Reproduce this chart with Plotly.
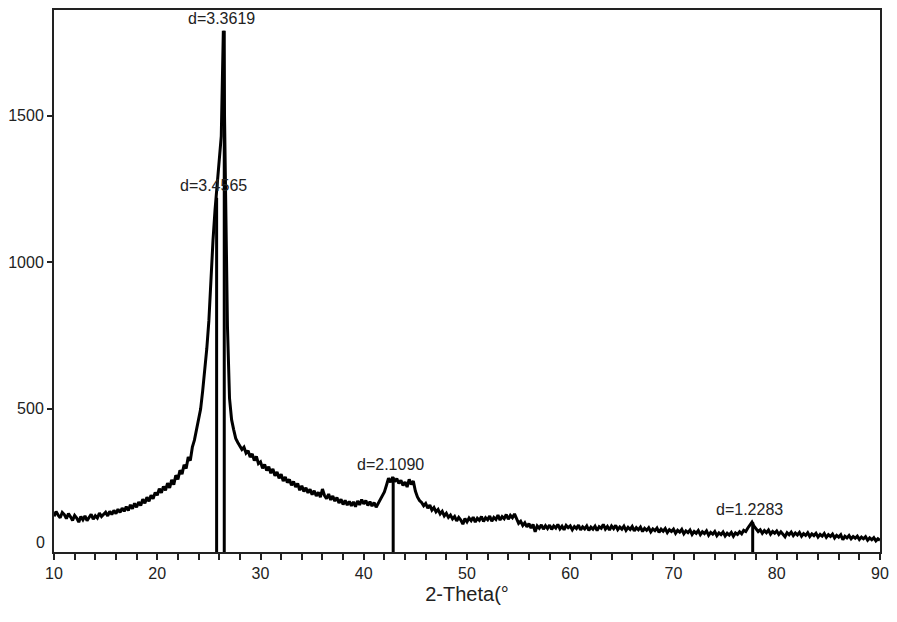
import plotly.graph_objects as go

# ---- data ----
two_theta_start = 10.0
two_theta_step = 0.2

intensity_10_15 = [132, 148, 136, 127, 145, 138, 124, 141, 130, 118, 135, 126, 112, 131, 120, 133, 117, 128, 139, 122, 134, 126, 143, 131, 138]
intensity_15_20 = [146, 133, 149, 138, 152, 141, 156, 145, 160, 149, 165, 152, 171, 158, 176, 163, 181, 169, 190, 176, 197, 183, 204, 192, 213]
intensity_20_25 = [204, 226, 212, 234, 221, 245, 229, 256, 240, 272, 258, 289, 276, 308, 295, 334, 322, 368, 392, 428, 452, 498, 560, 625, 705]
intensity_25_30 = [800, 945, 1075, 1180, 1255, 1330, 1430, 1790, 1350, 780, 535, 462, 428, 398, 384, 372, 360, 368, 348, 356, 334, 345, 322, 336, 312]
intensity_30_35 = [318, 296, 309, 288, 301, 279, 294, 270, 283, 262, 276, 252, 266, 247, 258, 238, 251, 232, 244, 221, 236, 217, 229, 212, 224]
intensity_35_40 = [206, 219, 201, 214, 197, 225, 203, 192, 208, 188, 201, 184, 196, 177, 190, 172, 186, 170, 183, 168, 181, 165, 184, 171, 189]
intensity_40_45 = [174, 186, 169, 182, 167, 179, 163, 176, 185, 198, 215, 238, 262, 248, 266, 250, 261, 244, 255, 237, 249, 232, 258, 241, 252]
intensity_45_50 = [218, 198, 186, 179, 168, 176, 160, 170, 153, 162, 147, 155, 140, 149, 133, 142, 128, 136, 123, 131, 116, 128, 119, 105, 124]
intensity_50_55 = [113, 126, 117, 129, 112, 125, 118, 131, 114, 127, 120, 133, 115, 128, 121, 136, 119, 131, 124, 138, 122, 135, 127, 140, 121]
intensity_55_60 = [108, 115, 101, 110, 96, 107, 92, 104, 79, 99, 91, 103, 88, 100, 90, 102, 87, 99, 92, 104, 89, 98, 86, 101, 93]
intensity_60_65 = [99, 86, 97, 90, 102, 85, 96, 89, 99, 84, 95, 88, 98, 83, 96, 91, 104, 88, 97, 85, 99, 90, 101, 86, 95]
intensity_65_70 = [88, 98, 84, 94, 87, 97, 82, 93, 86, 95, 80, 91, 84, 93, 79, 89, 83, 92, 77, 88, 81, 90, 76, 86, 80]
intensity_70_75 = [88, 74, 84, 78, 87, 72, 82, 76, 85, 70, 80, 74, 83, 69, 79, 73, 82, 67, 77, 71, 80, 66, 75, 69, 78]
intensity_75_80 = [65, 74, 68, 77, 64, 75, 70, 79, 72, 84, 80, 92, 104, 112, 98, 88, 80, 86, 74, 83, 76, 85, 71, 80, 74]
intensity_80_85 = [82, 70, 79, 72, 62, 76, 69, 78, 66, 75, 68, 77, 64, 73, 67, 76, 63, 72, 66, 74, 61, 70, 64, 73, 60]
intensity_85_90 = [69, 63, 71, 58, 67, 61, 69, 52, 64, 58, 66, 55, 63, 57, 64, 53, 61, 55, 62, 50, 58, 52, 59, 48, 55, 50]

intensity = (intensity_10_15 + intensity_15_20 + intensity_20_25 + intensity_25_30
             + intensity_30_35 + intensity_35_40 + intensity_40_45 + intensity_45_50
             + intensity_50_55 + intensity_55_60 + intensity_60_65 + intensity_65_70
             + intensity_70_75 + intensity_75_80 + intensity_80_85 + intensity_85_90)

peak_two_theta = [25.75, 26.49, 42.85, 77.67]
peak_height = [1220, 1790, 265, 112]
peak_labels = ["d=3.4565", "d=3.3619", "d=2.1090", "d=1.2283"]

x_ticks = [10, 20, 30, 40, 50, 60, 70, 80, 90]
y_ticks = [500, 1000, 1500]
x_title = "2-Theta(°"

# ---- figure ----
FONT = "Liberation Sans, Arial, sans-serif"
fig = go.Figure()

fig.add_trace(go.Scatter(
    x0=two_theta_start, dx=two_theta_step, y=intensity,
    mode="lines", line=dict(color="black", width=3), hoverinfo="skip"))

stick_x, stick_y = [], []
for p, h in zip(peak_two_theta, peak_height):
    stick_x += [p, p, None]
    stick_y += [0, h, None]
fig.add_trace(go.Scatter(x=stick_x, y=stick_y, mode="lines",
                         line=dict(color="black", width=3), hoverinfo="skip"))

for p, h, t in zip(peak_two_theta, peak_height, peak_labels):
    fig.add_annotation(x=p, y=h, text=t, showarrow=False, yanchor="bottom",
                       xshift=-3, yshift=2,
                       font=dict(family=FONT, size=16, color="#222"))

# "0" label drawn at the bottom of the y axis as in the original
fig.add_annotation(x=0, xref="paper", y=41, yref="y", text="0", showarrow=False,
                   xanchor="right", xshift=-7, font=dict(family=FONT, size=16, color="#222"))

# the page adds an 8px body margin, so the figure is sized/offset to compensate
fig.update_layout(
    width=889, height=614,
    margin=dict(l=42, r=17, t=0, b=70),
    paper_bgcolor="white", plot_bgcolor="white",
    showlegend=False,
    font=dict(family=FONT, size=16, color="#222"),
)
fig.update_xaxes(
    range=[10, 90], tickvals=x_ticks, ticks="outside", ticklen=6, tickwidth=2,
    tickcolor="#222", showline=True, linecolor="#222", linewidth=2, mirror=True,
    showgrid=False, zeroline=False,
    minor=dict(dtick=2, ticks="outside", ticklen=6, tickwidth=2, tickcolor="#222", showgrid=False),
    tickfont=dict(family=FONT, size=16, color="#222"),
    title=dict(text=x_title, standoff=6, font=dict(family=FONT, size=20, color="#222")),
)
fig.update_yaxes(
    range=[10, 1861], tickvals=y_ticks, ticks="outside", ticklen=5, tickwidth=2,
    tickcolor="#222", showline=True, linecolor="#222", linewidth=2, mirror=True,
    showgrid=False, zeroline=False,
    tickfont=dict(family=FONT, size=16, color="#222"),
)

fig.write_html("out.html")
